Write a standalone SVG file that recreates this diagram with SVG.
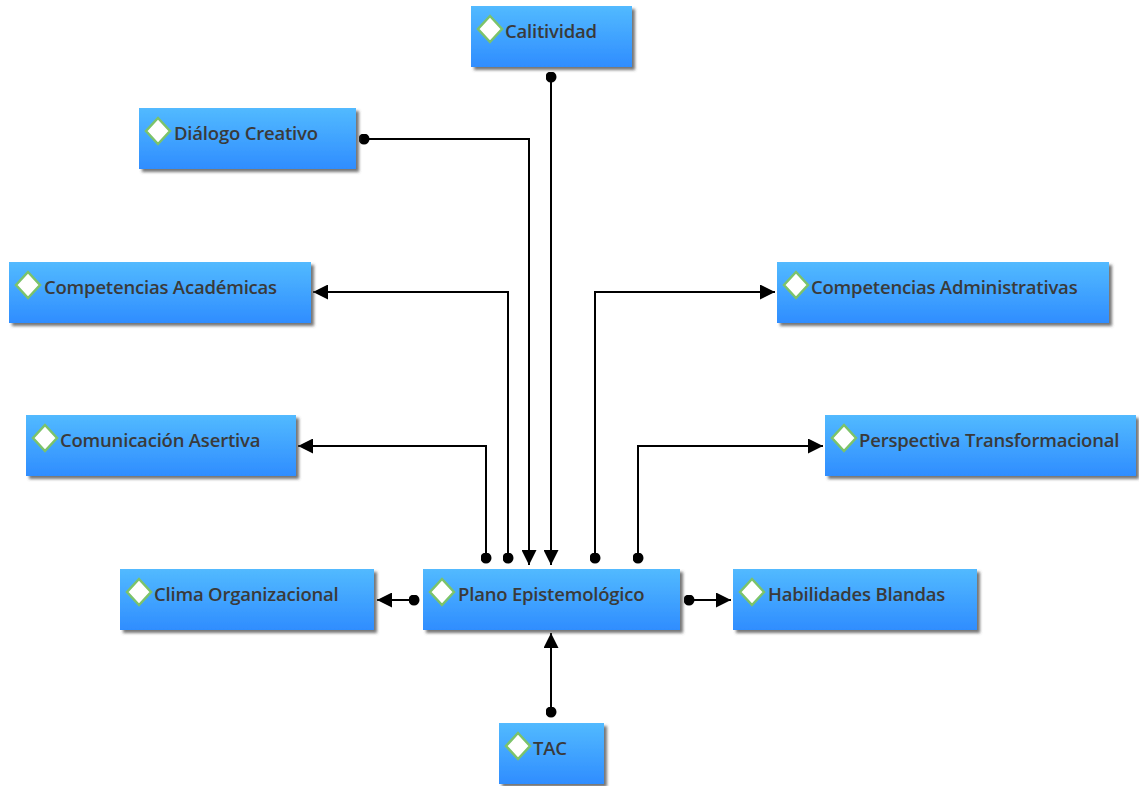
<svg xmlns="http://www.w3.org/2000/svg" width="1139" height="786" viewBox="0 0 1139 786">
<defs>
<linearGradient id="g" x1="0" y1="0" x2="0" y2="1">
<stop offset="0" stop-color="#52baff"/>
<stop offset="1" stop-color="#2f8dff"/>
</linearGradient>
<filter id="sh" x="-10%" y="-10%" width="130%" height="140%">
<feDropShadow dx="3" dy="3" stdDeviation="1.5" flood-color="#555" flood-opacity="0.8"/>
</filter>
<marker id="arr" viewBox="0 0 10 10" refX="10" refY="5" markerWidth="15" markerHeight="15" markerUnits="userSpaceOnUse" orient="auto">
<path d="M0,0 L10,5 L0,10 z" fill="#000"/>
</marker>
<marker id="dot" viewBox="0 0 10 10" refX="5" refY="5" markerWidth="11" markerHeight="11" markerUnits="userSpaceOnUse" orient="auto">
<circle cx="5" cy="5" r="5" fill="#000"/>
</marker>
</defs>
<style>
.box{fill:url(#g);filter:url(#sh)}
.ic{fill:#fff;stroke:#7cc36a;stroke-width:2.5}
.t{font-family:"Open Sans","Liberation Sans",sans-serif;font-weight:600;font-size:18.5px;fill:#3a3a3a;letter-spacing:-0.2px}
.c{fill:none;stroke:#000;stroke-width:2;marker-start:url(#dot);marker-end:url(#arr)}
</style>
<g id="connectors">
<path class="c" d="M551,77 L551,565"/>
<path class="c" d="M364,139 L529,139 L529,565"/>
<path class="c" d="M508,558 L508,292 L313,292"/>
<path class="c" d="M486,558 L486,446 L298,446"/>
<path class="c" d="M595,558 L595,292 L775,292"/>
<path class="c" d="M638,558 L638,446 L823,446"/>
<path class="c" d="M414,600 L377,600"/>
<path class="c" d="M689,600 L731,600"/>
<path class="c" d="M551,712 L551,633"/>
</g>
<g id="calitividad">
<rect class="box" x="471" y="6" width="161" height="61"/>
<path class="ic" d="M490,16 L502,29 L490,42 L478,29 z"/>
<text class="t" x="505" y="38">Calitividad</text>
</g>
<g id="dialogo">
<rect class="box" x="139" y="108" width="217" height="61"/>
<path class="ic" d="M158,118 L170,131 L158,144 L146,131 z"/>
<text class="t" x="174" y="140">Diálogo Creativo</text>
</g>
<g id="comp-academicas">
<rect class="box" x="9" y="262" width="302" height="61"/>
<path class="ic" d="M28,272 L40,285 L28,298 L16,285 z"/>
<text class="t" x="44" y="294">Competencias Académicas</text>
</g>
<g id="comunicacion">
<rect class="box" x="26" y="415" width="270" height="61"/>
<path class="ic" d="M45,425 L57,438 L45,451 L33,438 z"/>
<text class="t" x="60" y="447">Comunicación Asertiva</text>
</g>
<g id="clima">
<rect class="box" x="120" y="569" width="254" height="61"/>
<path class="ic" d="M139,579 L151,592 L139,605 L127,592 z"/>
<text class="t" x="154" y="601">Clima Organizacional</text>
</g>
<g id="plano">
<rect class="box" x="423" y="569" width="257" height="61"/>
<path class="ic" d="M442,579 L454,592 L442,605 L430,592 z"/>
<text class="t" x="458" y="601">Plano Epistemológico</text>
</g>
<g id="habilidades">
<rect class="box" x="733" y="569" width="244" height="61"/>
<path class="ic" d="M752,579 L764,592 L752,605 L740,592 z"/>
<text class="t" x="768" y="601">Habilidades Blandas</text>
</g>
<g id="comp-administrativas">
<rect class="box" x="777" y="262" width="332" height="61"/>
<path class="ic" d="M796,272 L808,285 L796,298 L784,285 z"/>
<text class="t" x="811" y="294">Competencias Administrativas</text>
</g>
<g id="perspectiva">
<rect class="box" x="825" y="415" width="311" height="61"/>
<path class="ic" d="M844,425 L856,438 L844,451 L832,438 z"/>
<text class="t" x="859" y="447">Perspectiva Transformacional</text>
</g>
<g id="tac">
<rect class="box" x="499" y="723" width="105" height="61"/>
<path class="ic" d="M518,733 L530,746 L518,759 L506,746 z"/>
<text class="t" x="533" y="755">TAC</text>
</g>
</svg>
